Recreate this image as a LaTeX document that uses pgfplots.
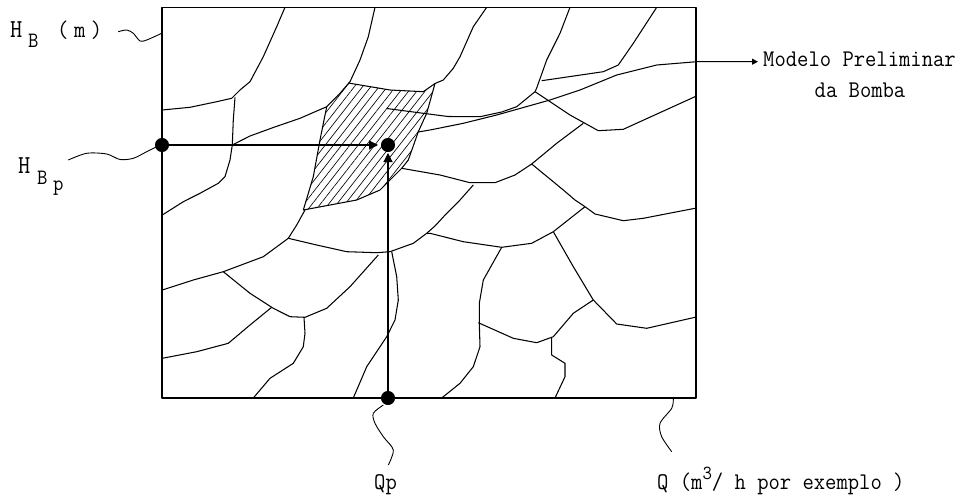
\documentclass[border=0pt]{standalone}
\usepackage{graphicx}
\usepackage{pgfplots}
\pgfplotsset{compat=1.18}
\usetikzlibrary{arrows.meta,patterns.meta}
% typewriter text, a little narrower than Latin Modern Mono
\newcommand\lbl[2]{\scalebox{0.92}[1]{\ttfamily\fontsize{#1}{#1}\selectfont #2}}

\begin{document}
\begin{tikzpicture}
\begin{axis}[
    width=968bp, height=498bp, scale only axis,
    xmin=0, xmax=968, ymin=0, ymax=498, y dir=reverse,
    hide axis, enlargelimits=false, clip=false,
    cycle list={{black, solid, mark=none}},
    every axis plot/.append style={black, line width=1.05bp, line join=round},
  ]
% frame of the picture
\addplot[draw=none] coordinates {(0,0)(968,498)};

% hatched region (preliminary pump model)
\addplot[draw=none, pattern={Lines[angle=52,distance=6.5bp,line width=0.65bp]}] coordinates {
  (348.3,83)(390,90)(423.3,91.7)(435,83.5)(426.7,113.3)(418.3,131.7)(408.3,160)(401.7,168.3)
  (380,190)(356.7,200)(303.3,210)(313.3,176.7)(320,140)(326.7,106.7)} -- cycle;

% box
\addplot[line width=1.4bp] coordinates {(162,7.5)(696,7.5)(696,398)(162,398)} -- cycle;

% web of pump curves
\addplot coordinates {(285,7.3)(276.7,26.7)(263.3,56.7)(250,81.7)(240,90)(231.7,98.3)(216.7,101.7)(190,107.3)(162.3,110)};
\addplot coordinates {(235,97.3)(233.3,120)(232.3,145)(230,160)(225,176.7)(218.3,183.3)(200,193.3)(183.3,201.7)(162.3,215)};
\addplot coordinates {(232.3,145)(250,136)(273.3,127.5)(300,118.3)(326.7,106.7)};
\addplot coordinates {(375,7.3)(368.3,36.7)(360,60)(350,81.7)(340,93.3)(326.7,106.7)};
\addplot coordinates {(348.3,83)(390,90)(423.3,91.7)(435,83.5)(426.7,113.3)(418.3,131.7)(408.3,160)(401.7,168.3)
  (380,190)(356.7,200)(303.3,210)(313.3,176.7)(320,140)(326.7,106.7)};
\addplot coordinates {(486.7,7.3)(473.3,26.7)(460,56.7)(453.3,68.3)(443.3,80)(435,83.5)};
\addplot coordinates {(386.7,108.5)(423.3,113.3)(448,116.5)(480,116.7)(501.7,112)(516.7,106.7)(535,91.7)};
\addplot coordinates {(570,7.3)(560,33.3)(546.7,60)(536.7,88)(535,91.7)};
\addplot coordinates {(656.7,7.3)(633.3,43.3)(618.3,65)(603.3,71.7)(541.7,80.7)};
\addplot coordinates {(535,91.7)(570,115)(598.3,130.7)(623.3,129.3)(695,96.7)};
\addplot coordinates {(583.3,123.3)(556.7,143.3)(531.7,164)(515,175)(495,182.7)(470,182.7)(440,175)(401.7,168.3)};
\addplot coordinates {(531.7,164)(563.3,190)(575,200)(585,206.7)};
\addplot coordinates {(585,206.7)(595,214)(623.3,220.7)(643.3,218.3)(695,208.3)};
\addplot coordinates {(585,206.7)(553.3,231.7)};
\addplot coordinates {(553.3,231.7)(531.7,243.3)(501.7,247.3)(463.3,241.7)(430,233.3)(426.7,233.3)};
\addplot coordinates {(553.3,231.7)(573.3,266.7)(593.3,300)(616.7,324)(646.7,328.3)(695,317.3)};
\addplot coordinates {(593.3,300)(573.3,313.3)(553.3,336.7)(536.7,342.7)(513.3,338.3)(478.3,322.7)};
\addplot coordinates {(551.7,337)(551.7,355)(565,363.3)(565,376.7)(555,398)};
\addplot coordinates {(501.7,247.3)(483.3,280)(479.3,303.3)(479.3,323.3)(480,346.7)(473.3,366.7)(460,383.3)(441.7,398)};
\addplot coordinates {(473.3,185)(460,200)(446.7,213.3)(435,226)(426.7,233.3)(413.3,243.3)(390,251.7)};
\addplot coordinates {(305,210)(296.7,225)(288.3,238.3)};
\addplot coordinates {(288.3,238.3)(316.7,245)(346.7,251.7)(376.7,252.7)(390,251.7)};
\addplot coordinates {(288.3,238.3)(263.3,256.7)(223.3,271.7)(193.3,280)(162.3,290)};
\addplot coordinates {(223.3,271.7)(250,293.3)(273.3,308.3)(290,316.7)(305,317.3)(326.7,308.3)(350,286.7)(378.3,255)};
\addplot coordinates {(271.7,307.3)(250,325)(228.3,343.3)(196.7,351.7)(162.3,358.3)};
\addplot coordinates {(304,317.3)(305,333.3)(303.3,346.7)(293.3,363.3)(270,378.3)(253.3,398)};
\addplot coordinates {(391.7,251.7)(396.7,276.7)(398.3,300)(395,320)(386.7,336.7)(366.7,366.7)(353.3,398)};

% pointer to the label
\addplot[-{Triangle[length=6bp,width=6bp]}] coordinates {(418.3,132)(430,130)(463.3,123.3)(496.7,115)(550,100)(580,90)(616.7,75)(656.7,65)(696.7,61.7)(758,61.7)};

% reading arrows and points
\addplot[line width=1.1bp, -{Triangle[length=9bp,width=9bp]}] coordinates {(162,145)(378,145)};
\addplot[line width=1.1bp, -{Triangle[length=9bp,width=9bp]}] coordinates {(388,398)(388,153)};
\addplot[only marks, mark=*, mark size=6.5] coordinates {(162,145)(388,145)(388,398)};

% wiggly leaders
\addplot[line width=0.9bp, smooth] coordinates {(118.3,31.7)(126.7,30)(133.3,33.3)(140,41)(146.7,40)(161.7,33.3)};
\addplot[line width=0.9bp, smooth] coordinates {(68.3,160)(86.7,153.3)(106.7,154)(120,159.5)(133.3,158.3)(146.7,151.7)(158,146)};
\addplot[line width=0.9bp, smooth] coordinates {(383.3,405)(373.3,413.3)(375,423.3)(383.3,436.7)(393.3,450)(388.3,465)};
\addplot[line width=0.9bp, smooth] coordinates {(673.3,399)(671.7,408.3)(660,423.3)(661.7,436.7)(671.7,451.7)};

% labels
\node[anchor=base west, inner sep=0pt] at (axis cs:10,38) {\lbl{26}{H}};
\node[anchor=base west, inner sep=0pt] at (axis cs:28,48) {\lbl{22}{B}};
\node[anchor=base west, inner sep=0pt] at (axis cs:57,38) {\lbl{24}{(\kern6bp m\kern6bp)}};
\node[anchor=base west, inner sep=0pt] at (axis cs:18,173) {\lbl{26}{H}};
\node[anchor=base west, inner sep=0pt] at (axis cs:37,184) {\lbl{22}{B}};
\node[anchor=base west, inner sep=0pt] at (axis cs:53,190) {\lbl{22}{p}};
\node[anchor=base west, inner sep=0pt] at (axis cs:374,489) {\lbl{24}{Qp}};
\node[anchor=base west, inner sep=0pt] at (axis cs:657,489) {\lbl{24}{Q (m\raisebox{10bp}{\fontsize{20}{20}\selectfont 3}/ h por exemplo )}};
\node[anchor=base west, inner sep=0pt] at (axis cs:763,67) {\lbl{24}{Modelo Preliminar}};
\node[anchor=base, inner sep=0pt] at (axis cs:860,97) {\lbl{24}{da Bomba}};
\end{axis}
\end{tikzpicture}
\end{document}
